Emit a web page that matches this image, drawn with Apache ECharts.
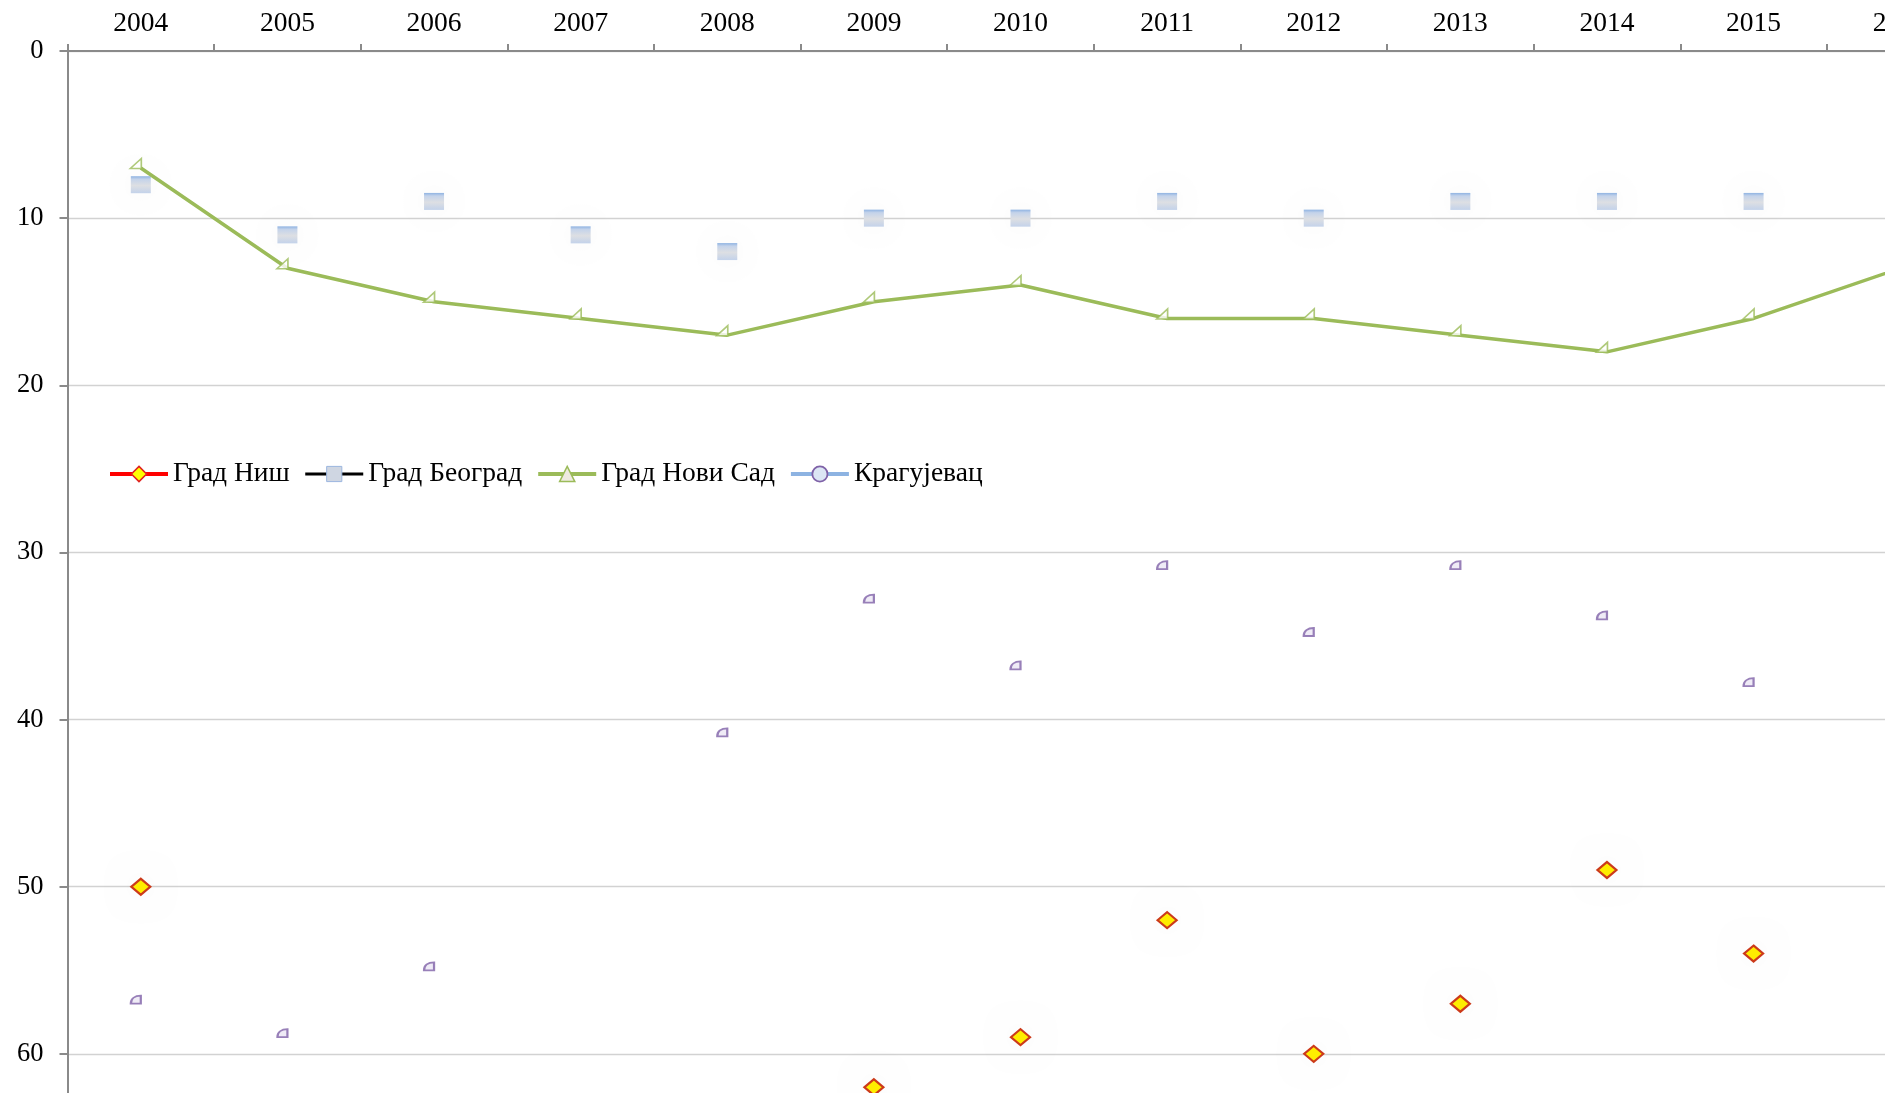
<!DOCTYPE html>
<html>
<head>
<meta charset="utf-8">
<script src="https://cdn.jsdelivr.net/npm/echarts@6/dist/echarts.min.js"></script>
<style>
html,body{margin:0;padding:0;background:#ffffff;}
#chart{width:1885px;height:1093px;}
</style>
</head>
<body>
<div id="chart"></div>
<script>
// ---- data ----
const years = ['2004','2005','2006','2007','2008','2009','2010','2011','2012','2013','2014','2015','2016'];
const nis        = [50, null, null, null, null, 62, 59, 52, 60, 57, 49, 54, null];
const beograd    = [8, 11, 9, 11, 12, 10, 10, 9, 10, 9, 9, 9, 9];
const noviSad    = [7, 13, 15, 16, 17, 15, 14, 16, 16, 17, 18, 16, 13];
const kragujevac = [57, 59, 55, null, 41, 33, 37, 31, 35, 31, 34, 38, null];
const seriesNames = ['Град Ниш', 'Град Београд', 'Град Нови Сад', 'Крагујевац'];
const yMin = 0, yMax = 70, yStep = 10;

const FONT = '"Liberation Serif", "Times New Roman", serif';
const AXIS_COLOR = '#8a8a8a';
const GREEN = '#9bbb59';
const PURPLE = '#7f62a8';

const chart = echarts.init(document.getElementById('chart'), null, {renderer: 'canvas'});

const squareFill = {
  type: 'linear', x: 0, y: 0, x2: 0, y2: 1,
  colorStops: [
    {offset: 0, color: '#8fb3e2'},
    {offset: 0.18, color: '#c4d3ea'},
    {offset: 0.55, color: '#dddfe3'},
    {offset: 1, color: '#c3d2ea'}
  ]
};

const option = {
  animation: false,
  backgroundColor: '#ffffff',
  grid: {left: 67.5, top: 51, width: 1906, height: 1170, containLabel: false, outerBoundsMode: 'none'},
  legend: {
    left: 103, top: 455,
    orient: 'horizontal',
    itemWidth: 58, itemHeight: 19, itemGap: 14,
    textStyle: {fontFamily: FONT, fontSize: 27.5, color: '#000'},
    data: [
      {name: seriesNames[0], lineStyle: {color: '#ff0000', width: 4, opacity: 1},
        itemStyle: {color: '#ffff00', borderColor: '#e02020', borderWidth: 1.5}},
      {name: seriesNames[1], lineStyle: {color: '#000000', width: 3, opacity: 1},
        itemStyle: {color: '#cfd6e2', borderColor: '#9bb6df', borderWidth: 1}},
      {name: seriesNames[2], lineStyle: {color: GREEN, width: 4, opacity: 1},
        itemStyle: {color: '#eeeae0', borderColor: GREEN, borderWidth: 1.5}},
      {name: seriesNames[3], lineStyle: {color: '#8db3e2', width: 4, opacity: 1},
        itemStyle: {color: '#dce6f4', borderColor: PURPLE, borderWidth: 1.8}}
    ]
  },
  xAxis: {
    type: 'category',
    position: 'top',
    data: years,
    boundaryGap: true,
    axisLine: {show: true, onZero: false, lineStyle: {color: AXIS_COLOR, width: 2}},
    axisTick: {show: true, length: 7, lineStyle: {color: AXIS_COLOR, width: 2}},
    axisLabel: {fontFamily: FONT, fontSize: 27.5, color: '#000', margin: 13},
    splitLine: {show: false}
  },
  yAxis: {
    type: 'value',
    inverse: true,
    min: yMin, max: yMax, interval: yStep,
    axisLine: {show: true, lineStyle: {color: AXIS_COLOR, width: 2}},
    axisTick: {show: true, length: 8, lineStyle: {color: AXIS_COLOR, width: 2}},
    axisLabel: {fontFamily: FONT, fontSize: 26.5, color: '#000', margin: 24},
    splitLine: {show: true, lineStyle: {color: '#d2d2d2', width: 1.3}}
  },
  series: [
    {
      name: seriesNames[0],
      type: 'line',
      data: nis,
      connectNulls: false,
      symbol: 'diamond',
      symbolSize: [19, 16],
      showSymbol: true,
      lineStyle: {opacity: 0, width: 0},
      itemStyle: {color: '#ffee00', borderColor: '#cc3a1a', borderWidth: 2.2,
        shadowBlur: 28, shadowColor: 'rgba(0,0,0,0.05)'},
      z: 4
    },
    {
      name: seriesNames[1],
      type: 'line',
      data: beograd,
      symbol: 'rect',
      symbolSize: [20, 17],
      showSymbol: true,
      lineStyle: {opacity: 0, width: 0},
      itemStyle: {color: squareFill, borderWidth: 0,
        shadowBlur: 34, shadowColor: 'rgba(0,0,0,0.05)'},
      z: 3
    },
    {
      name: seriesNames[2],
      type: 'line',
      data: noviSad,
      symbol: 'triangle',
      showSymbol: false,
      lineStyle: {color: GREEN, width: 3.5},
      itemStyle: {color: '#eeeae0', borderColor: GREEN},
      z: 5
    },
    {
      name: seriesNames[3],
      type: 'line',
      data: kragujevac,
      symbol: 'circle',
      showSymbol: false,
      lineStyle: {opacity: 0, width: 0},
      itemStyle: {color: '#dce6f4', borderColor: PURPLE},
      z: 2
    },
    {
      name: 'noviSadMarks',
      type: 'scatter',
      data: noviSad,
      symbol: 'path://M0,10 L10,0 L10,10 Z',
      symbolSize: [11, 10],
      symbolOffset: [-5, -4.5],
      itemStyle: {color: '#ffffff', borderColor: GREEN, borderWidth: 1.6},
      z: 6
    },
    {
      name: 'kragujevacMarks',
      type: 'scatter',
      data: kragujevac,
      symbol: 'path://M0,8 C0,3 4,0 10,0 L10,8 Z',
      symbolSize: [10, 8],
      symbolOffset: [-5, -4],
      itemStyle: {color: '#ebe6f4', borderColor: PURPLE, borderWidth: 2},
      z: 6
    }
  ]
};

chart.setOption(option);
</script>
</body>
</html>
